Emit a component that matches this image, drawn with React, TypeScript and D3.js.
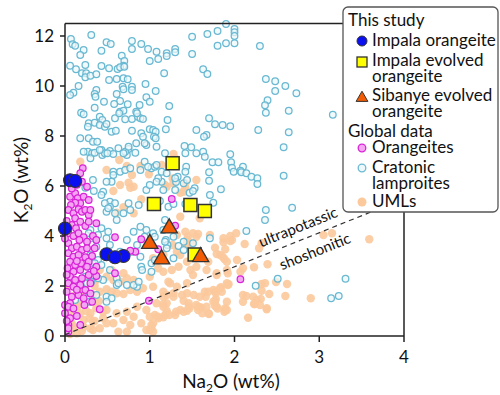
import React from "react";
import * as d3 from "d3";

type P = [number, number];

// Na2O, K2O (wt%) pairs
const umls: P[] = [
  [2.02,4.11],[1.95,3.80],[1.87,3.75],[1.77,3.53],[2.12,3.68],[2.29,3.51],[1.83,3.24],[1.88,3.08],[1.69,2.97],[2.10,2.71],[2.23,2.75],[2.39,2.87],[1.79,2.44],[1.93,2.07],[1.84,1.95],[1.77,1.77],[1.78,1.48],[1.77,1.20],[1.66,1.57],[1.61,1.13],[1.70,0.88],[1.89,1.04],[1.88,0.97],[2.10,1.64],[2.14,1.60],[2.23,1.28],[2.32,2.08],[2.32,1.81],[2.31,1.48],[2.41,1.68],[2.38,1.11],[2.16,0.73],[2.49,2.16],[2.62,2.08],[2.60,1.60],[2.90,1.51],[3.05,4.04],[3.15,4.11],[3.59,3.87],[1.59,1.15],
  [1.27,3.64],[1.44,3.71],[1.89,3.47],[2.32,3.71],[1.04,3.11],[1.16,3.24],[1.79,3.28],[1.26,2.64],[1.48,2.64],[1.16,2.57],[1.51,2.44],[1.22,2.17],[1.24,2.11],[1.92,2.51],[2.07,2.57],[2.36,2.11],[1.92,2.04],[1.75,1.84],[1.85,1.77],[1.78,1.71],[1.65,1.77],[1.44,1.71],[1.38,1.64],[1.52,1.64],[1.40,1.41],[1.20,1.64],[1.16,1.57],[1.28,1.71],[1.16,1.28],[1.20,1.31],[1.46,1.31],[1.57,1.17],[1.57,1.04],[1.40,0.97],[1.44,1.01],[1.20,1.01],[1.18,0.84],[1.16,0.75],[1.06,0.84],[1.00,0.77],[1.10,0.77],[1.30,0.84],[1.77,1.37],[1.79,1.17],[1.89,1.11],[1.91,1.04],[1.69,0.91],[2.10,1.37],[1.91,1.37],[2.22,1.57],[2.26,1.44],[2.30,1.24],[2.38,1.07],[1.00,0.24],[1.04,0.51],[1.02,0.44],
  [0.79,6.44],[0.65,6.04],[0.81,5.97],[1.18,6.04],[0.90,5.47],[0.81,4.91],[0.69,5.15],[0.61,4.93],[1.32,4.04],[1.42,4.17],[1.44,3.84],[1.55,3.97],[1.71,4.04],[1.87,3.91],[1.97,3.84],[1.32,3.37],[1.36,3.24],[1.86,3.17],[1.91,2.97],[2.03,3.04],
  [0.33,1.64],[0.41,1.77],[0.49,1.87],[0.55,1.77],[0.61,1.71],[0.69,1.68],[0.77,1.84],[0.85,1.77],[0.92,1.91],[1.04,1.97],[1.16,1.77],[1.32,1.97],[1.44,2.11],[1.28,1.57],[1.08,1.31],[0.96,1.04],[0.85,1.17],[0.73,0.97],[0.61,0.91],[0.49,1.04],[0.37,1.11],[0.30,0.91],[0.22,0.64],[0.33,0.57],[0.45,0.71],[0.57,0.51],[0.69,0.64],[0.81,0.77],[0.90,0.51],[0.96,0.24],[1.02,0.31],[1.10,0.71],[1.20,0.91],[1.16,1.17],[1.36,1.04],[1.46,1.17],[1.55,1.24],[1.67,1.17],[1.75,1.37],[1.59,1.57],[1.69,1.77],[1.83,1.91],[1.91,2.11],[0.10,0.37],[0.14,0.11],[0.06,0.91],[0.18,1.31],[0.30,1.37],[0.24,1.91],[0.37,2.24],[0.49,2.37],[0.57,2.24],[0.65,2.17],[0.73,2.31],[0.81,2.24],[0.69,2.51],[0.55,2.64],[0.41,2.64],
  [1.44,2.97],[1.34,2.77],[1.55,2.77],[1.67,2.64],[1.79,2.51],[1.91,2.64],[1.10,2.71],[1.00,2.37],
  [0.18,6.97],[0.49,6.64],[0.64,7.04],[0.73,6.80],[0.75,6.13],[0.77,5.93],[0.89,6.80],[0.99,6.47],[1.27,6.30],[1.30,7.10],[1.42,5.93],[1.36,5.73],[0.57,5.80],
  [1.28,7.28],[1.14,6.84],[1.55,6.24],[1.42,6.11],[1.40,5.77],[1.28,6.11],[1.20,5.97],[1.36,4.77],[1.59,4.71],[1.95,4.00],[1.51,4.11],[1.45,3.97],[1.43,3.64],[1.49,3.71],[1.57,4.08],
  [0.18,0.91],[0.29,0.71],[0.45,0.97],[0.63,0.17],[0.73,0.17],[0.77,0.44],[1.04,0.17],[1.23,0.84],[1.31,0.97],[1.47,1.11],[1.62,0.91],[1.80,1.10],[2.24,1.28],[0.33,0.24],[0.41,0.31],[0.49,0.51],[0.22,0.37],[0.06,0.08],
  [0.05,2.0],[0.10,1.6],[0.20,1.8],[0.15,1.2],[0.25,1.0],[0.08,0.5],[0.20,0.2],[0.30,0.3],[0.35,0.6],[0.28,2.3],[0.35,2.0],[0.40,1.4],
];

const cratonic: P[] = [
  [0.07,11.88],[0.09,11.67],[0.12,11.61],[0.31,12.04],[0.49,11.75],[0.54,11.68],[0.43,11.41],[0.22,11.44],[0.18,11.24],[0.79,11.80],[0.79,11.48],[0.90,11.68],[0.98,11.48],[1.08,11.37],[1.20,11.31],[1.20,11.20],[1.30,11.48],[1.30,11.35],[1.50,11.97],[1.50,11.28],[1.68,12.08],[0.67,11.21],[0.70,11.00],[0.69,10.81],[1.00,11.00],[1.10,11.08],[0.06,10.81],[0.13,10.67],[0.24,10.84],[0.20,10.51],[0.25,10.51],[0.24,10.35],[0.30,10.41],[0.37,10.47],[0.43,10.80],[0.52,10.71],[0.62,10.68],[0.65,10.75],[0.70,10.77],[0.52,10.24],[0.61,10.28],[0.69,10.31],[0.74,10.27],[1.17,10.51],[1.63,10.67],[1.68,10.48],[0.16,10.00],[0.10,9.73],[0.06,9.64],[0.37,9.84],[0.35,9.68],[0.36,9.57],[0.46,9.37],[0.61,9.68],[0.68,9.97],[0.69,9.87],[0.79,9.97],[0.79,9.84],[0.95,10.08],[1.07,9.80],[0.96,9.55],[1.00,9.37],[0.65,9.40],[0.58,9.28],[0.74,9.27],[0.88,9.24],[1.23,9.20],[0.35,9.13],[0.19,8.93],[0.22,8.87],[0.28,8.51],[0.27,8.37],[0.35,8.53],[0.41,8.77],[0.44,8.64],[0.41,8.44],[0.47,8.37],[0.49,8.48],[0.59,8.71],[0.65,8.97],[0.69,9.01],[0.64,8.91],[0.71,8.67],[0.79,8.68],[0.84,8.97],[0.86,8.77],[0.89,8.71],[0.92,8.68],[0.85,8.91],[1.21,8.64],[0.18,7.91],[0.28,7.91],[0.33,7.77],[0.38,7.77],[0.55,8.17],[0.60,8.21],[0.79,8.21],[0.90,8.11],[0.92,7.97],[1.00,8.27],[1.04,8.24],[1.07,8.17],[1.05,7.97],[1.07,7.91],[1.19,8.27],[0.84,7.71],[0.96,7.64],[1.55,8.24],[1.67,8.04],[1.64,7.97],[0.27,7.37],[0.32,7.31],[0.43,7.44],[0.44,7.24],[0.53,7.40],[0.75,7.48],[0.73,7.24],[1.18,7.31],[1.41,7.60],[1.49,7.55],[1.55,7.31],[1.63,7.37],[1.65,7.17],[1.70,8.71],
  [1.90,12.48],[2.00,12.28],[2.00,12.15],[2.00,12.00],[2.00,11.71],[1.90,11.71],[1.80,12.20],[1.80,11.61],[2.30,11.60],[2.37,10.28],[2.48,10.19],[2.60,10.00],[2.48,9.80],[2.73,9.71],[2.39,9.43],[2.36,9.23],[2.37,8.93],[2.64,9.01],[3.16,8.85],[1.77,8.47],[1.86,8.44],[1.95,8.39],[2.28,8.24],[2.64,8.15],[2.58,7.55],[1.42,7.31],[1.74,6.95],[1.81,6.95],[1.95,7.27],[1.96,6.95],[1.97,6.73],[1.99,6.57],[2.10,6.77],[2.07,6.61],[2.08,6.55],[2.14,6.51],[2.20,6.37],[2.27,6.31],[2.58,6.41],[1.70,6.55],[1.43,6.77],[1.33,6.37],
  [2.27,6.08],[1.31,6.16],[1.40,6.11],[1.70,6.21],[1.84,5.87],[1.47,5.73],[1.53,5.91],[1.71,5.64],[1.75,5.33],[1.42,5.28],[1.14,6.17],[1.16,5.84],[1.12,5.40],[1.22,5.17],[1.28,5.28],[1.18,4.64],[1.16,4.24],[1.19,3.84],[1.21,3.64],[1.40,3.77],[1.34,3.60],[1.51,3.71],[1.71,3.91],[2.37,5.04],[2.68,5.13],[2.36,4.64],[2.14,4.20],
  [2.51,2.29],[2.25,2.01],[3.31,2.29],[3.14,1.51],[3.23,1.60],
  [0.55,6.17],[0.45,5.77],[0.43,5.64],[0.53,5.37],[0.59,5.31],[0.53,5.17],[0.49,4.97],[0.61,4.64],[0.75,5.31],[0.77,5.04],[0.87,5.24],[0.69,4.91],[0.96,5.84],[1.00,6.04],[1.10,6.31],[1.30,6.31],[1.30,5.84],[0.89,4.37],[0.96,4.24],[1.04,4.11],[0.94,3.97],[1.06,3.97],[0.81,4.17],[0.73,3.84],[0.85,3.64],[0.79,3.37],[0.65,3.37],[0.89,3.17],[0.90,2.77],[1.02,2.91],[1.28,3.11],[1.20,3.51],[1.18,3.77],[1.28,3.97],[1.40,3.44],[0.30,4.24],[0.39,4.04],[0.49,3.91],[0.53,3.64],[0.37,3.57],[0.30,3.24],[0.39,3.04],[0.31,2.77],[0.43,2.84],[0.53,2.64],[0.61,2.31],[0.73,2.04],[0.85,1.97],[0.61,2.04],[0.35,2.37],[0.45,2.24],[0.49,1.57],[0.55,1.51],[0.26,2.11],[0.30,3.91],
  [0.30,7.11],[0.35,7.33],[0.47,7.31],[0.57,7.28],[0.71,7.37],[0.83,7.33],[0.57,6.57],[0.65,6.57],[0.71,6.64],[0.77,6.71],[0.89,6.64],[1.02,6.71],[1.06,6.77],[1.14,6.57],[0.47,5.31],[0.51,5.11],[0.59,4.91],[0.43,4.31],[0.51,4.17],[0.28,4.11],[0.28,3.11],[0.35,2.91],[0.31,2.64],[0.24,2.37],[0.31,2.17],[0.39,2.31],[0.63,2.11],[0.81,2.04],[0.87,2.17],[0.91,2.64],[1.02,2.57],[1.06,3.04],[0.28,1.57],[0.37,1.64],
  [0.22,7.37],[0.41,7.44],[0.50,7.31],[0.63,7.51],[0.69,7.31],[0.75,7.57],[0.94,7.71],[1.08,7.57],[0.94,6.97],[0.98,6.77],[1.08,6.84],[0.57,6.44],[0.49,6.17],[0.33,6.24],[0.24,5.93],[0.34,5.80],[1.08,6.17],[1.20,6.51],[1.42,6.57],[1.44,6.24],[1.51,5.80],
  [0.12,1.44],[0.29,1.37],[0.49,1.37],
];

const orangeites: P[] = [
  [0.21,6.71],[0.18,6.51],[0.26,5.97],[0.20,6.17],[0.06,5.57],[0.12,5.71],[0.15,5.51],[0.18,5.31],[0.12,5.33],[0.07,5.24],[0.22,5.57],[0.28,5.44],[0.04,5.04],[0.10,4.91],[0.16,5.07],[0.20,4.97],[0.24,5.04],[0.28,4.84],[0.30,5.04],[0.12,4.71],[0.18,4.57],[0.08,4.44],[0.13,4.31],[0.24,4.40],[0.28,4.57],[0.37,4.51],[0.04,4.11],[0.10,4.00],[0.16,4.11],[0.22,3.95],[0.17,3.84],[0.26,3.77],[0.33,4.00],[0.37,3.84],[0.59,3.95],[0.04,3.71],[0.08,3.51],[0.14,3.57],[0.20,3.44],[0.26,3.51],[0.35,3.51],[0.04,3.31],[0.10,3.17],[0.16,3.24],[0.24,3.15],[0.28,2.97],[0.06,2.97],[0.12,2.84],[0.19,2.91],[0.03,2.71],[0.10,2.57],[0.18,2.64],[0.26,2.77],[0.37,2.77],[0.06,2.37],[0.12,2.24],[0.20,2.31],[0.28,2.44],[0.37,2.40],[0.04,2.11],[0.10,1.97],[0.18,2.04],[0.24,1.84],[0.30,2.11],[0.02,1.77],[0.08,1.57],[0.16,1.64],[0.22,1.51],[0.06,1.31],[0.00,0.91],[0.06,0.71],[0.04,0.44],[0.04,0.17],[0.18,0.44],[0.41,1.07],[0.59,2.51],[0.83,3.37],[0.99,1.41],[1.26,5.48],[1.30,4.41],[0.90,3.87],[1.10,3.47],[2.07,2.27],[0.00,1.24],[0.04,1.17],[0.23,1.24],[0.32,1.37],[0.04,0.31],[0.77,3.41],
  [0.08,5.90],[0.14,6.05],[0.02,4.60],[0.00,3.90],[0.14,3.00],[0.32,3.20],[0.34,2.60],[0.14,1.85],[0.30,1.70],[0.02,2.45],[0.10,1.10],[0.14,0.80],[0.02,0.60],
];

const impalaOrangeite: P[] = [[0.06,6.23],[0.12,6.20],[0.0,4.30],[0.49,3.27],[0.69,3.20],[0.59,3.15]];
const impalaEvolved: P[] = [[1.27,6.91],[1.05,5.28],[1.48,5.24],[1.65,5.00],[1.53,3.26]];
const sibanyeEvolved: P[] = [[1.00,3.73],[1.23,4.35],[1.14,3.11],[1.60,3.20]];

const xTicks = [0, 1, 2, 3, 4];
const yTicks = [0, 2, 4, 6, 8, 10, 12];
const boundary: P[] = [[0, 0.05], [4, 5.49]];

const FONT = "Lato, 'Open Sans', sans-serif";
const C_UML = "#fbc99c";
const C_CYAN = "#6ab9d2";
const C_MAG = "#d823d8";

export default function App() {
  const x = d3.scaleLinear().domain([0, 4]).range([65, 404]);
  const y = d3.scaleLinear().domain([0, 12.5]).range([336, 23.5]);
  const line = d3.line<P>().x((d) => x(d[0])).y((d) => y(d[1]));
  const ang = (Math.atan2(y(boundary[1][1]) - y(boundary[0][1]), x(boundary[1][0]) - x(boundary[0][0])) * 180) / Math.PI;
  const lineAt = (px: number) => y(boundary[0][1] + ((boundary[1][1] - boundary[0][1]) * x.invert(px)) / boundary[1][0]);
  const tri = d3.symbol().type(d3.symbolTriangle).size(115)();
  const triL = d3.symbol().type(d3.symbolTriangle).size(60)();

  return (
    <svg width={500} height={395} style={{ position: "absolute", left: 0, top: 0, background: "#fff" }} fontFamily={FONT}>
      <rect width={500} height={395} fill="#fff" />
      {umls.map((d, i) => (
        <circle key={"u" + i} cx={x(d[0])} cy={y(d[1])} r={4.2} fill={C_UML} opacity={0.9} />
      ))}
      {cratonic.map((d, i) => (
        <circle key={"c" + i} cx={x(d[0])} cy={y(d[1])} r={3.3} fill="#eef8fb" fillOpacity={0.7} stroke={C_CYAN} strokeWidth={1.3} />
      ))}
      {orangeites.map((d, i) => (
        <circle key={"o" + i} cx={x(d[0])} cy={y(d[1])} r={3.3} fill="#f4a6f2" stroke={C_MAG} strokeWidth={1.2} />
      ))}
      <path d={line(boundary) || ""} fill="none" stroke="#333" strokeWidth={1.2} strokeDasharray="5,4" />
      {impalaEvolved.map((d, i) => (
        <rect key={"y" + i} x={x(d[0]) - 6.5} y={y(d[1]) - 6.5} width={13} height={13} fill="#ffff00" stroke="#333" strokeWidth={1.5} />
      ))}
      {sibanyeEvolved.map((d, i) => (
        <path key={"t" + i} d={tri || ""} transform={`translate(${x(d[0])},${y(d[1]) + 1})`} fill="#f25c05" stroke="#333" strokeWidth={1.3} />
      ))}
      {impalaOrangeite.map((d, i) => (
        <circle key={"b" + i} cx={x(d[0])} cy={y(d[1])} r={6.5} fill="#0a10f0" stroke="#333" strokeWidth={1.2} />
      ))}
      <g stroke="#222" strokeWidth={1.5} fill="none">
        <line x1={65} x2={65} y1={23.5} y2={336} />
        <line x1={65} x2={404} y1={336} y2={336} />
        <line x1={65} x2={404} y1={23.5} y2={23.5} />
        <line x1={404} x2={404} y1={23.5} y2={336} />
      </g>
      {yTicks.map((t) => (
        <g key={"yt" + t}>
          <line x1={60} x2={65} y1={y(t)} y2={y(t)} stroke="#222" strokeWidth={1.5} />
          <text x={54} y={y(t)} dy="0.36em" textAnchor="end" fontSize={17} fill="#111">{t}</text>
        </g>
      ))}
      {xTicks.map((t) => (
        <g key={"xt" + t}>
          <line x1={x(t)} x2={x(t)} y1={336} y2={342} stroke="#222" strokeWidth={1.5} />
          <text x={x(t)} y={363} textAnchor="middle" fontSize={17} fill="#111">{t}</text>
        </g>
      ))}
      <text x={231} y={388} textAnchor="middle" fontSize={19} fill="#111">
        Na<tspan fontSize={12} dy={4}>2</tspan><tspan dy={-4}>O (wt%)</tspan>
      </text>
      <text transform="translate(28,180) rotate(-90)" textAnchor="middle" fontSize={19} fill="#111">
        K<tspan fontSize={12} dy={4}>2</tspan><tspan dy={-4}>O (wt%)</tspan>
      </text>
      <g transform={`translate(303,${lineAt(303)}) rotate(${ang})`}>
        <text y={-8} textAnchor="middle" fontSize={15} fill="#111">ultrapotassic</text>
      </g>
      <g transform={`translate(309,${lineAt(309)}) rotate(${ang})`}>
        <text y={21} textAnchor="middle" fontSize={15} fill="#111">shoshonitic</text>
      </g>
      <g>
        <rect x={343} y={7} width={155} height={205} rx={5} fill="#fff" stroke="#555" strokeWidth={1.3} />
        <g fontSize={17} fill="#111">
          <text x={348} y={26}>This study</text>
          <circle cx={362} cy={41} r={5} fill="#0a10f0" stroke="#333" strokeWidth={1} />
          <text x={372} y={46}>Impala orangeite</text>
          <rect x={357} y={57} width={10} height={10} fill="#ffff00" stroke="#333" strokeWidth={1.3} />
          <text x={372} y={66}>Impala evolved</text>
          <text x={372} y={82}>orangeite</text>
          <path d={triL || ""} transform="translate(362,98)" fill="#f25c05" stroke="#333" strokeWidth={1} />
          <text x={372} y={101}>Sibanye evolved</text>
          <text x={372} y={117}>orangeite</text>
          <text x={348} y={137}>Global data</text>
          <circle cx={362} cy={148} r={3.8} fill="#f4a6f2" stroke={C_MAG} strokeWidth={1.3} />
          <text x={372} y={153}>Orangeites</text>
          <circle cx={362} cy={168} r={3.8} fill="#eef8fb" stroke={C_CYAN} strokeWidth={1.3} />
          <text x={372} y={173}>Cratonic</text>
          <text x={372} y={189}>lamproites</text>
          <circle cx={362} cy={202} r={4.5} fill={C_UML} />
          <text x={372} y={207}>UMLs</text>
        </g>
      </g>
    </svg>
  );
}
